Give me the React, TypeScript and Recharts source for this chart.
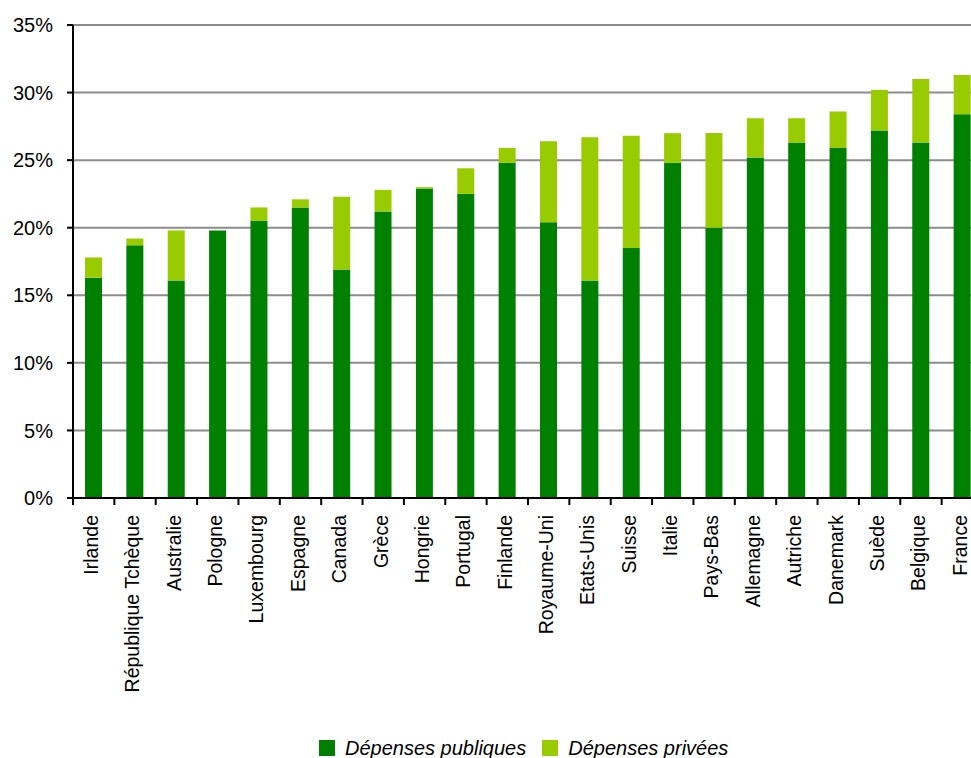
import React from 'react';
import { BarChart, Bar, XAxis, YAxis, CartesianGrid, Legend } from 'recharts';

const countries = [
  'Irlande', 'République Tchèque', 'Australie', 'Pologne', 'Luxembourg', 'Espagne',
  'Canada', 'Grèce', 'Hongrie', 'Portugal', 'Finlande', 'Royaume-Uni', 'Etats-Unis',
  'Suisse', 'Italie', 'Pays-Bas', 'Allemagne', 'Autriche', 'Danemark', 'Suède',
  'Belgique', 'France',
];

// % of GDP
const publicSpending = [
  16.3, 18.7, 16.1, 19.8, 20.5, 21.5, 16.9, 21.2, 22.9, 22.5, 24.8,
  20.4, 16.1, 18.5, 24.8, 20.0, 25.2, 26.3, 25.9, 27.2, 26.3, 28.4,
];
const privateSpending = [
  1.5, 0.5, 3.7, 0.0, 1.0, 0.6, 5.4, 1.6, 0.1, 1.9, 1.1,
  6.0, 10.6, 8.3, 2.2, 7.0, 2.9, 1.8, 2.7, 3.0, 4.7, 2.9,
];

const yTicks = [0, 5, 10, 15, 20, 25, 30, 35];

const seriesNames = ['Dépenses publiques', 'Dépenses privées'];
const seriesColors = ['#008000', '#99cc00'];

const data = countries.map((name, i) => ({
  name,
  publiques: publicSpending[i],
  privees: privateSpending[i],
}));

const FONT = '"Liberation Sans", Arial, sans-serif';

const CountryTick = (props: any) => {
  const { x, y, payload } = props;
  const left = payload.coordinate - payload.offset;
  return (
    <g>
      <line x1={left} y1={y - 17} x2={left} y2={y - 10} stroke="#000" strokeWidth={2} />
      <g transform={`translate(${x},${y})`}>
        <text
          transform="rotate(-90)"
          textAnchor="end"
          dy="0.22em"
          fontSize={19.5}
          fontFamily={FONT}
          fill="#000"
        >
          {payload.value}
        </text>
      </g>
    </g>
  );
};

const LegendContent = () => (
  <div style={{ display: 'flex', alignItems: 'center', fontFamily: FONT }}>
    {seriesNames.map((label, i) => (
      <div key={label} style={{ display: 'flex', alignItems: 'center', marginRight: 16 }}>
        <span style={{ width: 16, height: 16, background: seriesColors[i], display: 'inline-block', marginRight: 10 }} />
        <span style={{ fontSize: 20, fontStyle: 'italic', color: '#000', lineHeight: '24px' }}>{label}</span>
      </div>
    ))}
  </div>
);

export default function App() {
  return (
    <div style={{ position: 'absolute', top: 0, left: 0, width: 971, height: 758, overflow: 'hidden', fontFamily: FONT, background: '#fff' }}>
      <BarChart
        width={993}
        height={758}
        data={data}
        margin={{ top: 25, right: 10, left: 0, bottom: 0 }}
      >
        <CartesianGrid vertical={false} stroke="#8c8c8c" strokeWidth={2} />
        <XAxis
          dataKey="name"
          height={260}
          interval={0}
          tickLine={false}
          tickSize={0}
          tickMargin={17}
          axisLine={{ stroke: '#000', strokeWidth: 2 }}
          tick={<CountryTick />}
        />
        <YAxis
          width={73}
          domain={[0, 35]}
          ticks={yTicks}
          tickFormatter={(v) => `${v}%`}
          tickSize={6}
          tickMargin={14}
          tickLine={{ stroke: '#000', strokeWidth: 2 }}
          axisLine={{ stroke: '#000', strokeWidth: 2 }}
          tick={{ fill: '#000', fontSize: 20, fontFamily: FONT }}
        />
        <Legend
          verticalAlign="middle"
          align="center"
          layout="horizontal"
          wrapperStyle={{ top: 736, left: 319, width: 600, height: 24 }}
          content={<LegendContent />}
        />
        <Bar dataKey="publiques" name={seriesNames[0]} stackId="a" fill={seriesColors[0]} barSize={17} isAnimationActive={false} />
        <Bar dataKey="privees" name={seriesNames[1]} stackId="a" fill={seriesColors[1]} barSize={17} isAnimationActive={false} />
      </BarChart>
    </div>
  );
}
